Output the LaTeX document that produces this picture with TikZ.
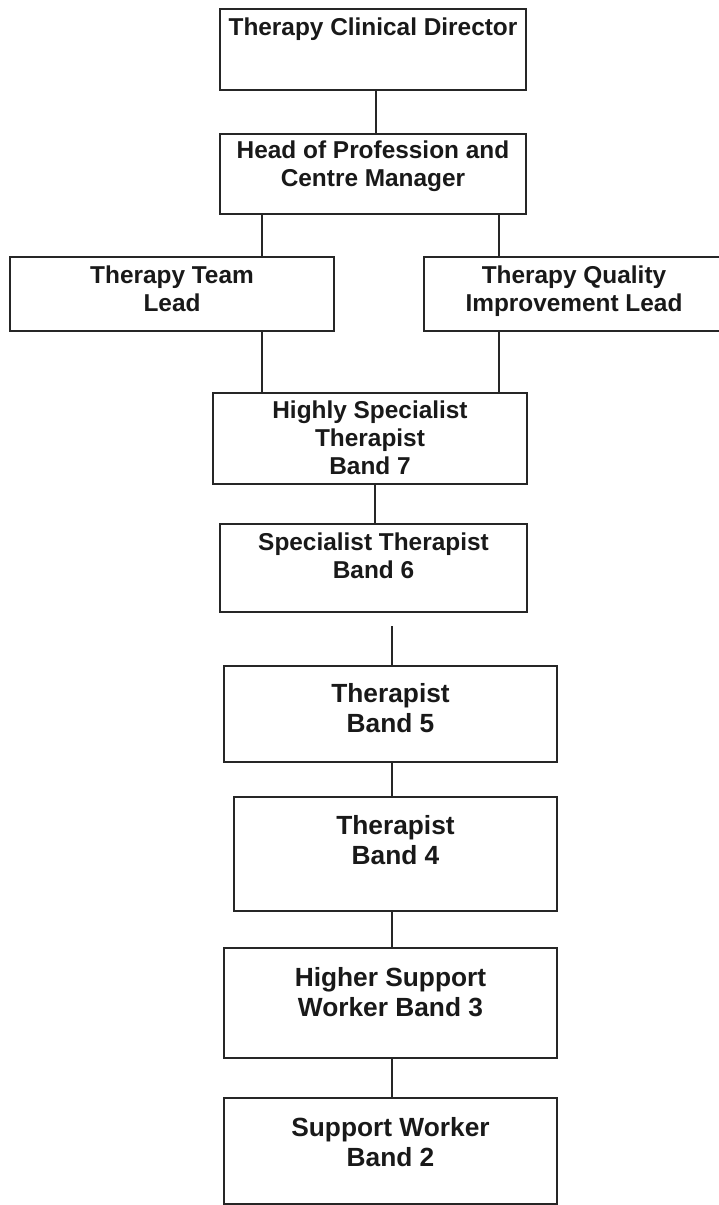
\documentclass[tikz,border=0pt]{standalone}
\usepackage{fontspec}
\setmainfont{Liberation Sans}
\usepackage{tikz}

\newcommand{\topfont}{\fontsize{24.4}{28}\selectfont\bfseries}
\newcommand{\lowfont}{\fontsize{26.3}{30}\selectfont\bfseries}

\begin{document}
\begin{tikzpicture}[
			x=1pt, y=-1pt,
			box/.style = {draw, line width=1.6pt, draw=black!85, anchor=north, align=center, inner ysep=0pt, inner xsep=0pt, text=black!90},
			link/.style = {line width=1.1pt, draw=black!85}
		]
		\useasboundingbox (0,0) rectangle (718,1205);
		% top of the chart
		\node[box, minimum width=306pt, text height=26.5pt, text depth=54.5pt, font=\topfont] (tcd) at (373,8) {Therapy Clinical Director};
		\node[box, minimum width=306pt, text height=52.5pt, text depth=27.5pt, font=\topfont] (hpcm) at (373,133) {Head of Profession and\\Centre Manager};
		\node[box, minimum width=324pt, text height=54.5pt, text depth=19.5pt, font=\topfont] (ttl) at (172,256) {Therapy Team\\Lead};
		\node[box, minimum width=300pt, text height=54.5pt, text depth=19.5pt, font=\topfont] (tqil) at (574,256) {Therapy Quality\\Improvement Lead};
		\node[box, minimum width=314pt, text height=81.5pt, text depth=9.5pt, font=\topfont] (hst) at (370,392) {Highly Specialist\\Therapist\\Band 7};
		\node[box, minimum width=307pt, text height=54.5pt, text depth=33.5pt, font=\topfont] (st) at (373.5,523) {Specialist Therapist\\Band 6};
		% lower bands
		\node[box, minimum width=333pt, text height=67pt, text depth=29pt, font=\lowfont] (t5) at (390.5,665) {Therapist\\Band 5};
		\node[box, minimum width=323pt, text height=68pt, text depth=46pt, font=\lowfont] (t4) at (395.5,796) {Therapist\\Band 4};
		\node[box, minimum width=333pt, text height=69pt, text depth=41pt, font=\lowfont] (hsw) at (390.5,947) {Higher Support\\Worker Band 3};
		\node[box, minimum width=333pt, text height=69pt, text depth=37pt, font=\lowfont] (sw) at (390.5,1097) {Support Worker\\Band 2};
		% columns for the connectors
		\coordinate (ccol) at (376,0);
		\coordinate (lcol) at (262,0);
		\coordinate (rcol) at (499,0);
		\coordinate (mcol) at (375,0);
		\coordinate (bcol) at (392,0);
		\coordinate (gap) at (0,626);
		\draw[link] (tcd.south -| ccol) -- (hpcm.north -| ccol);
		\draw[link] (hpcm.south -| lcol) -- (ttl.north -| lcol);
		\draw[link] (hpcm.south -| rcol) -- (tqil.north -| rcol);
		\draw[link] (ttl.south -| lcol) -- (hst.north -| lcol);
		\draw[link] (tqil.south -| rcol) -- (hst.north -| rcol);
		\draw[link] (hst.south -| mcol) -- (st.north -| mcol);
		\draw[link] (gap -| bcol) -- (t5.north -| bcol);
		\draw[link] (t5.south -| bcol) -- (t4.north -| bcol);
		\draw[link] (t4.south -| bcol) -- (hsw.north -| bcol);
		\draw[link] (hsw.south -| bcol) -- (sw.north -| bcol);
	\end{tikzpicture}
\end{document}
